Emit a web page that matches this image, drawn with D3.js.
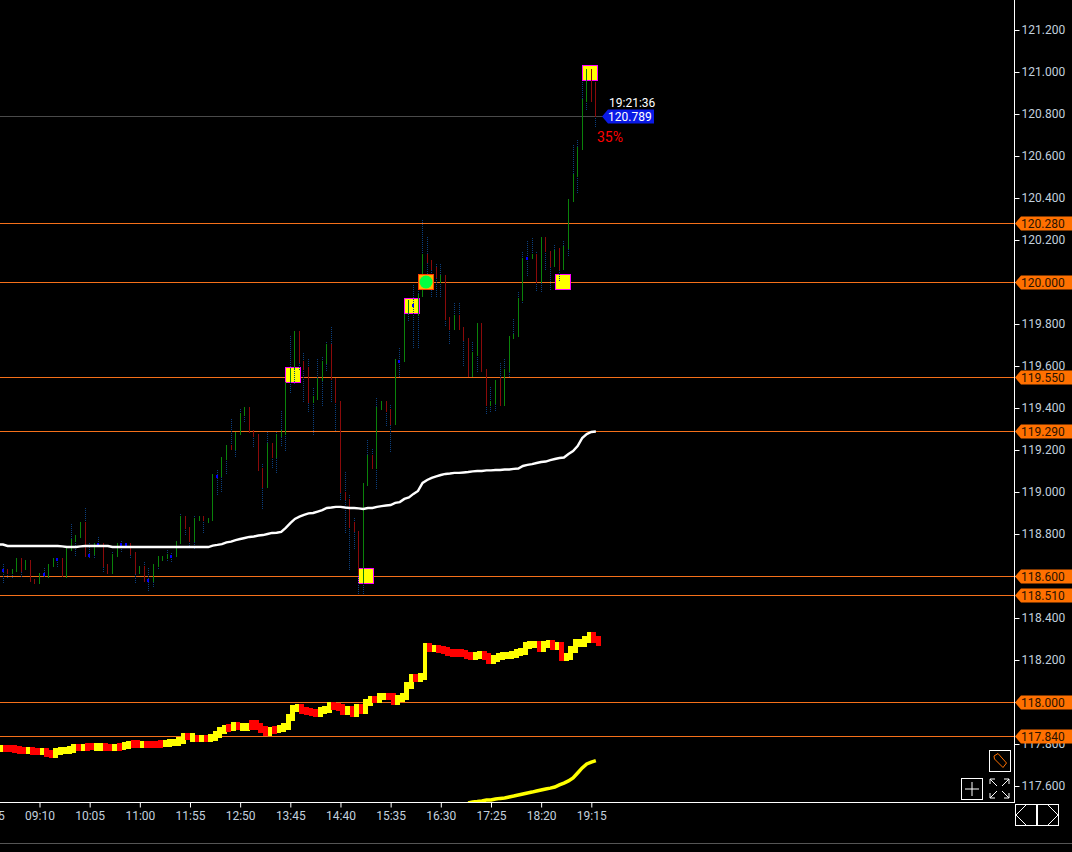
<!DOCTYPE html>
<html><head><meta charset="utf-8">
<script src="https://cdn.jsdelivr.net/npm/d3@7"></script>
<style>html,body{margin:0;padding:0;background:#000;overflow:hidden}svg{display:block}text{font-family:Roboto,"Liberation Sans",sans-serif}</style>
</head><body><svg id="c" width="1072" height="852"></svg>
<script>
const firstBar = -8;
const barOpen = [118.629,118.633,118.61,118.621,118.684,118.629,118.676,118.586,118.564,118.61,
118.592,118.645,118.679,118.684,118.592,118.721,118.764,118.783,118.856,118.7,
118.7,118.752,118.756,118.656,118.61,118.692,118.752,118.752,118.756,118.713,
118.61,118.648,118.581,118.573,118.645,118.672,118.679,118.695,118.692,
118.753,118.886,118.834,118.764,118.864,118.886,118.854,118.864,119.078,119.073,
119.153,119.224,119.2,119.272,119.362,119.403,119.296,119.276,119.113,119.021,
119.232,119.161,119.264,119.271,119.525,119.584,119.767,119.624,119.594,119.422,
119.438,119.53,119.609,119.705,119.541,119.433,119.001,118.965,118.855,118.814,
118.565,119.028,119.176,119.11,119.39,119.433,119.394,119.319,119.625,119.621,
119.846,119.89,119.838,119.93,120.132,120.105,120.073,119.994,120.033,119.835,
119.771,119.843,119.784,119.732,119.546,119.649,119.803,119.586,119.409,119.419,
119.541,119.409,119.573,119.729,119.74,119.909,120.116,120.109,120.132,119.994,
120.213,120.149,120.073,120.16,120.057,120.157,120.383,120.502,120.629,120.859,
121.013,120.954];
const barClose = [118.629,118.61,118.633,118.684,118.621,118.676,118.573,118.564,118.613,118.61,
118.656,118.684,118.679,118.594,118.732,118.775,118.795,118.856,118.692,118.7,
118.756,118.752,118.645,118.61,118.703,118.756,118.752,118.752,118.7,118.61,
118.648,118.573,118.581,118.656,118.695,118.695,118.705,118.695,118.767,
118.886,118.823,118.764,118.875,118.886,118.864,118.875,119.086,119.078,119.165,
119.224,119.2,119.288,119.375,119.403,119.283,119.261,119.1,119.021,119.232,
119.161,119.276,119.296,119.525,119.584,119.767,119.613,119.581,119.422,119.457,
119.541,119.624,119.705,119.533,119.422,118.993,118.962,118.827,118.811,118.604,
119.041,119.176,119.11,119.403,119.433,119.382,119.319,119.632,119.625,119.846,
119.914,119.89,119.943,120.132,120.089,120.057,120.017,120.033,119.819,119.771,
119.843,119.771,119.719,119.546,119.665,119.803,119.573,119.409,119.433,119.533,
119.409,119.586,119.743,119.751,119.922,120.113,120.116,120.132,119.994,120.213,
120.141,120.073,120.152,120.057,120.173,120.395,120.514,120.641,120.87,121.013,
120.859,120.788];
const barHigh = [118.657,118.633,118.633,118.684,118.684,118.676,118.676,118.586,118.613,118.637,
118.656,118.684,118.684,118.684,118.732,118.848,118.795,118.856,118.922,118.756,
118.756,118.784,118.756,118.656,118.716,118.756,118.768,118.756,118.756,118.713,
118.648,118.668,118.637,118.656,118.695,118.695,118.724,118.708,118.767,
118.896,118.886,118.834,118.886,118.886,118.886,118.875,119.086,119.105,119.165,
119.224,119.348,119.288,119.396,119.403,119.403,119.296,119.276,119.134,119.288,
119.232,119.288,119.388,119.525,119.744,119.767,119.767,119.66,119.632,119.494,
119.632,119.641,119.716,119.784,119.541,119.433,119.096,118.985,118.874,118.814,
119.041,119.248,119.203,119.446,119.433,119.433,119.414,119.632,119.684,119.846,
119.914,119.986,119.986,120.295,120.216,120.105,120.084,120.084,120.033,119.835,
119.898,119.898,119.784,119.732,119.716,119.803,119.803,119.586,119.502,119.533,
119.613,119.633,119.743,119.824,119.951,120.141,120.195,120.211,120.141,120.213,
120.213,120.149,120.176,120.16,120.195,120.395,120.653,120.676,120.954,121.013,
121.013,120.954];
const barLow = [118.562,118.592,118.592,118.621,118.597,118.629,118.573,118.564,118.564,118.589,
118.592,118.645,118.645,118.594,118.592,118.721,118.692,118.783,118.692,118.679,
118.679,118.748,118.621,118.61,118.61,118.692,118.708,118.748,118.679,118.562,
118.61,118.573,118.53,118.541,118.629,118.672,118.668,118.66,118.692,
118.753,118.791,118.732,118.727,118.864,118.803,118.854,118.864,118.981,118.994,
119.081,119.2,119.161,119.272,119.327,119.283,119.208,119.1,118.918,119.021,
119.113,119.089,119.219,119.192,119.473,119.509,119.581,119.43,119.375,119.271,
119.438,119.403,119.573,119.422,119.287,118.962,118.803,118.628,118.727,118.509,
118.509,119.028,119.11,119.009,119.39,119.311,119.192,119.319,119.546,119.621,
119.811,119.684,119.684,119.922,120.017,119.922,119.93,119.93,119.787,119.7,
119.771,119.771,119.597,119.541,119.546,119.573,119.565,119.371,119.375,119.382,
119.409,119.409,119.541,119.729,119.74,119.898,120.03,120.109,119.957,119.946,
120.057,119.957,120.073,120.002,120.057,120.121,120.383,120.426,120.629,120.819,
120.859,120.732];

const avgFirst = -9;
const avgLine = [118.75,118.75,118.743,118.743,118.743,118.743,118.743,118.743,118.743,
118.743,118.743,118.743,118.743,118.743,118.741,118.738,118.738,118.738,118.741,118.743,118.743,118.743,118.743,118.743,118.743,
118.738,118.738,118.738,118.738,118.738,118.738,118.738,118.738,118.738,118.738,118.738,118.738,118.738,118.738,118.738,118.738,118.738,118.738,118.738,118.738,118.738,118.738,
118.745,118.748,118.752,118.76,118.764,118.771,118.776,118.781,118.786,118.788,118.793,118.795,118.8,118.805,118.806,118.81,
118.829,118.852,118.872,118.883,118.891,118.898,118.9,118.907,118.914,118.924,118.926,118.929,118.929,118.926,118.924,118.924,118.922,118.919,
118.924,118.924,118.929,118.933,118.936,118.938,118.948,118.952,118.967,118.974,118.991,119.005,119.043,119.057,119.067,119.074,119.081,119.086,
119.088,119.091,119.091,119.093,119.095,119.098,119.1,119.1,119.103,119.103,119.105,119.105,119.107,119.107,119.11,119.112,119.124,119.129,119.133,119.138,
119.143,119.145,119.152,119.157,119.162,119.164,119.181,119.195,119.219,119.257,119.276,119.286,119.288];

const indFirst = -9;
const indValue = [117.779,117.777,117.777,117.774,117.768,117.768,117.768,117.763,117.763,
117.762,117.755,117.75,117.762,117.768,117.771,117.773,117.781,117.781,117.784,117.79,117.787,117.782,117.787,117.784,117.784,117.785,117.787,
117.793,117.797,117.803,117.8,117.798,117.8,117.798,117.797,117.803,117.801,117.806,117.808,117.816,117.835,117.835,117.827,117.827,117.827,117.827,
117.83,117.843,117.866,117.874,117.879,117.887,117.882,117.879,117.885,117.898,117.885,117.87,117.854,117.863,117.871,117.874,117.882,
117.924,117.969,117.972,117.961,117.953,117.948,117.943,117.961,117.964,117.985,117.977,117.972,117.953,117.964,117.945,117.972,117.958,
118,118.013,118.013,118.024,118.027,118.024,118.004,118.019,118.027,118.078,118.115,118.11,118.12,118.262,118.254,118.253,118.251,118.243,118.237,118.231,
118.234,118.229,118.22,118.215,118.221,118.224,118.215,118.2,118.205,118.215,118.22,118.22,118.224,118.234,118.239,118.267,118.272,118.272,118.253,118.272,
118.277,118.262,118.267,118.21,118.215,118.248,118.281,118.277,118.296,118.315,118.296,118.281];
const indFalling = [0,1,1,1,1,1,0,1,1,
0,1,1,0,0,0,0,0,1,0,1,1,0,0,1,1,0,1,
0,0,1,1,0,1,1,1,1,0,0,0,0,0,1,0,1,0,1,
0,0,0,0,1,0,1,0,0,1,1,1,1,0,1,0,0,
0,0,0,1,1,1,1,0,0,0,1,1,1,0,1,0,1,
0,0,1,0,0,1,1,0,0,0,0,1,0,0,1,0,1,1,1,1,
1,1,1,1,0,0,1,1,0,0,0,0,0,0,0,0,0,0,1,0,
0,1,0,1,0,0,0,0,0,0,1,1];

const lowFirst = 94;
const lowerLine = [117.519,117.524,117.526,117.529,117.533,117.533,117.538,117.541,117.543,117.548,117.552,117.557,117.562,117.567,117.571,117.576,117.581,117.586,117.59,117.595,117.605,117.614,117.624,117.638,117.662,117.686,117.705,117.714,117.721];

const yTicks = [121.2,121,120.8,120.6,120.4,120.2,120,119.8,119.6,119.4,119.2,119,118.8,118.6,118.4,118.2,118,117.8,117.6];
const levels = [120.28,120,119.55,119.29,118.6,118.51,118,117.84];
const timeIndex = [-11,0,11,22,33,44,55,66,77,88,99,110,121];
const timeLabels = ["08:15","09:10","10:05","11:00","11:55","12:50","13:45","14:40","15:35","16:30","17:25","18:20","19:15"];
const markerIndex = [55.6,81.6,114.8,120.8,71.6];
const markerPrice = [119.557,119.886,120,120.995,118.6];
const signalIndex = 84.7, signalPrice = 120;
const lastPrice = 120.789, lastTime = "19:21:36", lastPct = "35%", lastIndex = 122;

const svg = d3.select("#c");
const W = 1014, H = 802;
const x = d3.scaleLinear().domain([0,121]).range([39.5,591.3]);
const y = d3.scaleLinear().domain([121.2,117.6]).range([30,786]);
const px = v => Math.floor(x(v));
const py = v => Math.round(y(v));

svg.append("defs").append("clipPath").attr("id","plot").append("rect").attr("width",W).attr("height",H);
const plot = svg.append("g").attr("clip-path","url(#plot)");

// price levels
plot.append("g").selectAll("line").data(levels).join("line")
  .attr("x1",0).attr("x2",W).attr("y1",d=>py(d)+.5).attr("y2",d=>py(d)+.5)
  .attr("stroke","#f5701a").attr("stroke-width",1);

// last price line
plot.append("line").attr("x1",0).attr("x2",606).attr("y1",py(lastPrice)+.5).attr("y2",py(lastPrice)+.5)
  .attr("stroke","#4a4a4a");

// indicator
const ind = plot.append("g").attr("shape-rendering","crispEdges");
ind.selectAll("rect").data(indValue).join("rect")
  .attr("x",(d,i)=>x(indFirst+i))
  .attr("width",(d,i)=>x(indFirst+i+1)-x(indFirst+i)+.3)
  .attr("y",(d,i)=>{const p=i?indValue[i-1]:d;return Math.min(y(p),y(d))-3.5;})
  .attr("height",(d,i)=>{const p=i?indValue[i-1]:d;return Math.abs(y(p)-y(d))+7;})
  .attr("fill",(d,i)=>indFalling[i]?"#ff0000":"#ffff00");

// lower line
plot.append("path").datum(lowerLine)
  .attr("d",d3.line().x((d,i)=>x(lowFirst+i)).y(d=>y(d)))
  .attr("fill","none").attr("stroke","#ffff00").attr("stroke-width",3.5);

// markers
plot.append("g").selectAll("rect").data(markerIndex).join("rect")
  .attr("x",d=>Math.round(x(d))-7.5).attr("width",15).attr("height",15)
  .attr("y",(d,i)=>py(markerPrice[i])-7.5)
  .attr("fill","#ffff00").attr("stroke","#ff00ff").attr("stroke-width",1);

// bars
const bars = plot.append("g").attr("shape-rendering","crispEdges");
bars.selectAll(".w").data(barHigh).join("line").attr("class","w")
  .attr("x1",(d,i)=>px(firstBar+i)+.5).attr("x2",(d,i)=>px(firstBar+i)+.5)
  .attr("y1",d=>py(d)).attr("y2",(d,i)=>py(barLow[i]))
  .attr("stroke","#0b3f7e").attr("stroke-width",1).attr("stroke-dasharray","1 1");
bars.selectAll(".b").data(barOpen).join("rect").attr("class","b")
  .attr("x",(d,i)=>px(firstBar+i)-(d===barClose[i]?1:0))
  .attr("width",(d,i)=>d===barClose[i]?2:1)
  .attr("y",(d,i)=>d===barClose[i]?py(d)-1:Math.min(py(d),py(barClose[i])))
  .attr("height",(d,i)=>d===barClose[i]?3:Math.abs(py(d)-py(barClose[i])))
  .attr("fill",(d,i)=>d===barClose[i]?"#0000ff":barClose[i]>d?"#0a820a":"#8a0a0a");

// average line
plot.append("path").datum(avgLine)
  .attr("d",d3.line().x((d,i)=>x(avgFirst+i)).y(d=>y(d)).curve(d3.curveLinear))
  .attr("fill","none").attr("stroke","#ffffff").attr("stroke-width",2.4);

// signal marker
const sx = Math.round(x(signalIndex)), sy = py(signalPrice);
plot.append("rect").attr("x",sx-7.5).attr("y",sy-7.5).attr("width",15).attr("height",15)
  .attr("fill","#ffb000").attr("stroke","#ff3a00");
plot.append("circle").attr("cx",sx).attr("cy",sy).attr("r",6.5).attr("fill","#00ff40");

// axes
const yAxis = svg.append("g").attr("transform",`translate(${W+.5},0)`)
  .call(d3.axisRight(y).tickValues(yTicks).tickFormat(d3.format(".3f")).tickSize(5).tickPadding(2));
const xAxis = svg.append("g").attr("transform",`translate(0,${H+.5})`)
  .call(d3.axisBottom(x).tickValues(timeIndex).tickFormat((d,i)=>timeLabels[i]).tickSize(5).tickPadding(4));
[yAxis,xAxis].forEach(a=>{
  a.selectAll("text").attr("fill","#c2d0de").attr("font-size",12).attr("font-family","Roboto");
  a.selectAll("line").attr("stroke","#fff");
  a.select(".domain").remove();
});
svg.append("line").attr("x1",W+.5).attr("x2",W+.5).attr("y1",0).attr("y2",H+1).attr("stroke","#fff");
svg.append("line").attr("x1",0).attr("x2",W+1).attr("y1",H+.5).attr("y2",H+.5).attr("stroke","#fff");
svg.append("line").attr("x1",0).attr("x2",1072).attr("y1",843.5).attr("y2",843.5).attr("stroke","#555");

// level tags
const tags = svg.append("g").selectAll("g").data(levels).join("g").attr("transform",d=>`translate(0,${py(d)+.5})`);
tags.append("path").attr("d",`M${W+1},0L${W+7},-7H1072V7H${W+7}Z`).attr("fill","#ff7000");
tags.append("text").attr("x",1021).attr("dy","0.36em").attr("font-size",12).attr("fill","#2a1200").text(d=>d3.format(".3f")(d));

// last price tag
const ly = py(lastPrice)+.5;
svg.append("path").attr("d",`M602,${ly}L608,${ly-7}H654V${ly+7}H608Z`).attr("fill","#0a1ae6");
svg.append("text").attr("x",608).attr("y",ly).attr("dy","0.36em").attr("font-size",12).attr("fill","#fff").text(d3.format(".3f")(lastPrice));
svg.append("text").attr("x",609).attr("y",ly-14).attr("dy","0.36em").attr("font-size",12).attr("fill","#fff").text(lastTime);
svg.append("text").attr("x",597).attr("y",137).attr("dy","0.36em").attr("font-size",14).attr("fill","#ff0000").text(lastPct);

// toolbar icons
const ui = svg.append("g").attr("fill","none").attr("stroke","#fff").attr("stroke-width",1);
ui.append("rect").attr("x",989.5).attr("y",750.5).attr("width",21).attr("height",21);
ui.append("path").attr("d","M994,756L998,753.5L1006.5,763L1003,767.5L994.5,759Z M996.5,757h.1").attr("stroke","#ff7000");
ui.append("rect").attr("x",961.5).attr("y",778.5).attr("width",21).attr("height",21);
ui.append("path").attr("d","M972,782V796M965,789H979");
ui.append("path").attr("d","M990,779L997,786M990,779H995M990,779V784 M1009,779L1002,786M1009,779H1004M1009,779V784 M990,798L997,791M990,798H995M990,798V793 M1009,798L1002,791M1009,798H1004M1009,798V793");
ui.append("rect").attr("x",1015.5).attr("y",804.5).attr("width",43).attr("height",21);
ui.append("path").attr("d","M1036.5,804V826M1037.5,804V826");
ui.append("path").attr("d","M1026,805L1016,815L1026,825 M1048,805L1058,815L1048,825");
</script></body></html>
